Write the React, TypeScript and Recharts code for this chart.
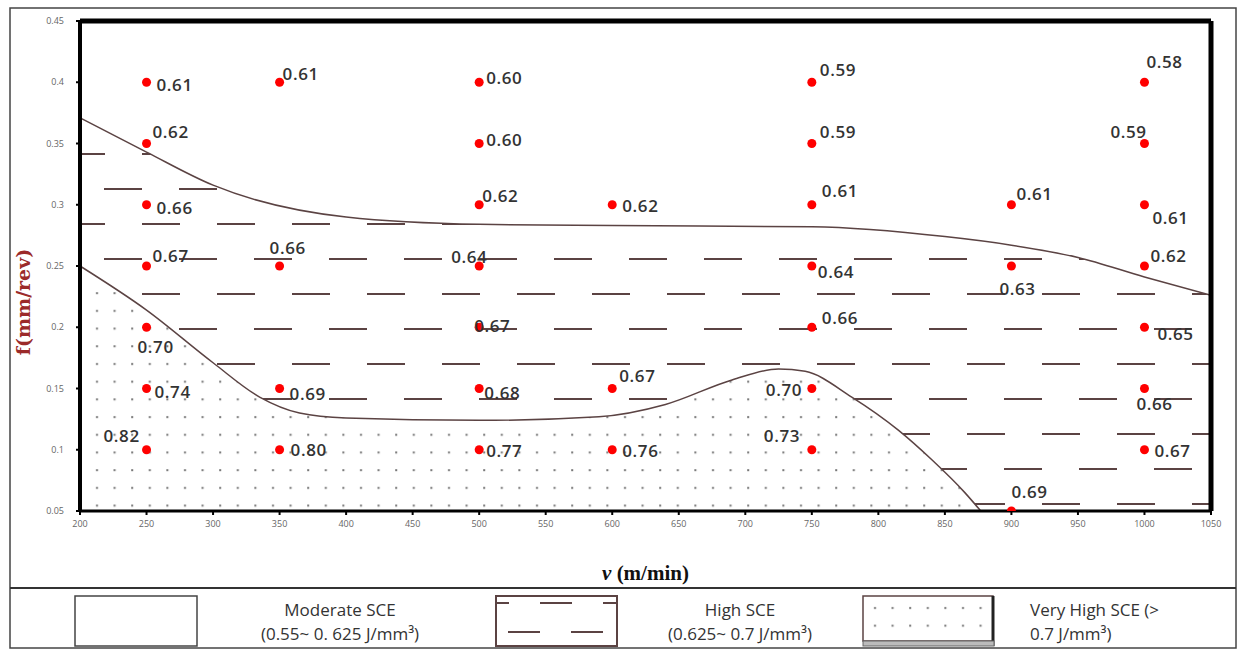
import React from 'react'
import { ComposedChart, Area, Scatter, XAxis, YAxis, Label, ReferenceLine } from 'recharts'

// measured points: cutting speed v (m/min), feed f (mm/rev), SCE (J/mm3)
const pointSpeed = [
  250, 250, 250, 250, 250, 250, 250,
  350, 350, 350, 350,
  500, 500, 500, 500, 500, 500, 500,
  600, 600, 600,
  750, 750, 750, 750, 750, 750, 750,
  900, 900, 900,
  1000, 1000, 1000, 1000, 1000, 1000, 1000,
]
const pointFeed = [
  0.4, 0.35, 0.3, 0.25, 0.2, 0.15, 0.1,
  0.4, 0.25, 0.15, 0.1,
  0.4, 0.35, 0.3, 0.25, 0.2, 0.15, 0.1,
  0.3, 0.15, 0.1,
  0.4, 0.35, 0.3, 0.25, 0.2, 0.15, 0.1,
  0.3, 0.25, 0.05,
  0.4, 0.35, 0.3, 0.25, 0.2, 0.15, 0.1,
]
const pointSce = [
  '0.61', '0.62', '0.66', '0.67', '0.70', '0.74', '0.82',
  '0.61', '0.66', '0.69', '0.80',
  '0.60', '0.60', '0.62', '0.64', '0.67', '0.68', '0.77',
  '0.62', '0.67', '0.76',
  '0.59', '0.59', '0.61', '0.64', '0.66', '0.70', '0.73',
  '0.61', '0.63', '0.69',
  '0.58', '0.59', '0.61', '0.62', '0.65', '0.66', '0.67',
]

// where each value label sits relative to its dot (px)
const labelShift: [number, number][] = [
  [10, 2], [6, -12], [10, 3], [6, -11], [-9, 19], [8, 3], [-43, -14],
  [3, -9], [-10, -19], [10, 5], [11, 0],
  [7, -5], [7, -4], [3, -9], [-28, -10], [-5, -2], [5, 4], [7, 1],
  [10, 1], [7, -13], [10, 1],
  [8, -13], [8, -12], [10, -14], [6, 5], [10, -10], [-46, 1], [-48, -14],
  [5, -11], [-12, 22], [0, -20],
  [2, -21], [-34, -12], [8, 13], [6, -11], [13, 6], [-8, 15], [10, 1],
]

// boundary moderate / high SCE
const upperV = [200, 250, 300, 400, 500, 600, 750, 850, 900, 950, 1000, 1050]
const upperF = [0.371, 0.343, 0.316, 0.29, 0.284, 0.283, 0.282, 0.274, 0.267, 0.257, 0.241, 0.226]

// boundary high / very high SCE
const lowerV = [200, 250, 300, 335, 365, 400, 500, 590, 640, 690, 725, 745, 780, 815, 840, 865, 877]
const lowerF = [0.25, 0.214, 0.171, 0.143, 0.13, 0.126, 0.124, 0.127, 0.137, 0.157, 0.166, 0.164, 0.143, 0.116, 0.092, 0.065, 0.05]

const xTicks = [200, 250, 300, 350, 400, 450, 500, 550, 600, 650, 700, 750, 800, 850, 900, 950, 1000, 1050]
const yTicks = [0.05, 0.1, 0.15, 0.2, 0.25, 0.3, 0.35, 0.4, 0.45]

const points = pointSpeed.map((v, i) => ({ v, f: pointFeed[i], i }))
const upperData = upperV.map((v, i) => ({ v, f: upperF[i] }))
const lowerData = lowerV.map((v, i) => ({ v, f: lowerF[i] }))

const lineColor = '#5b4343'
const textFont = '"Open Sans", "Liberation Sans", sans-serif'

const PointMark = (props: any) => {
  const { cx, cy, payload } = props
  const [dx, dy] = labelShift[payload.i]
  return (
    <g>
      <circle cx={cx} cy={cy} r={4.5} fill="#ff0000" />
      <text
        x={cx + dx}
        y={cy + dy}
        dominantBaseline="central"
        fontSize={17}
        fontWeight={600}
        letterSpacing={0.6}
        fontFamily={textFont}
        fill="#333"
      >
        {pointSce[payload.i]}
      </text>
    </g>
  )
}

const SpeedTitle = (props: any) => {
  const { x, y, width, height } = props.viewBox
  return (
    <text
      x={x + width / 2}
      y={y + height + 32}
      textAnchor="middle"
      dominantBaseline="central"
      fontSize={21}
      fontWeight={700}
      fontFamily='"Liberation Serif", serif'
      fill="#111"
    >
      <tspan fontStyle="italic">v</tspan> (m/min)
    </text>
  )
}

const LegendText = ({ x, y, anchor, children }: any) => (
  <text x={x} y={y} textAnchor={anchor} dominantBaseline="central" fontSize={17} fontFamily={textFont} fill="#333">
    {children}
  </text>
)

const App = () => {
  return (
    <div style={{ position: 'absolute', left: 0, top: 0, width: 1241, height: 651, background: '#fff' }}>
      <svg width={1241} height={651} style={{ position: 'absolute', left: 0, top: 0 }}>
        <defs>
          <pattern id="lg-dash" patternUnits="userSpaceOnUse" x={540} y={590} width={63} height={60}>
            <rect width={63} height={60} fill="#fff" />
            <rect x={0} y={12} width={32} height={2} fill={lineColor} />
            <rect x={31} y={41} width={32} height={2} fill={lineColor} />
          </pattern>
          <pattern id="lg-dot" patternUnits="userSpaceOnUse" x={866} y={600} width={17.6} height={17.7}>
            <rect width={17.6} height={17.7} fill="#fff" />
            <rect x={8} y={7} width={2} height={2} fill="#777" />
          </pattern>
        </defs>
        <rect x={10} y={8} width={1226} height={640} fill="none" stroke="#444" strokeWidth={1.5} />
        <line x1={10} y1={588} x2={1236} y2={588} stroke="#333" strokeWidth={2} />
        <text
          transform="translate(23,302) rotate(-90)"
          textAnchor="middle"
          dominantBaseline="central"
          fontSize={19}
          fontWeight={700}
          fontFamily='"DejaVu Serif", serif'
          fill="#9b2a2a"
        >
          f(mm/rev)
        </text>

        {/* legend */}
        <rect x={75} y={596} width={122} height={50} fill="#fff" stroke="#444" strokeWidth={1.5} />
        <LegendText x={340} y={609} anchor="middle">Moderate SCE</LegendText>
        <LegendText x={340} y={633} anchor="middle">(0.55~ 0. 625 J/mm³)</LegendText>

        <rect x={496} y={596} width={121} height={50} fill="url(#lg-dash)" stroke={lineColor} strokeWidth={2} />
        <LegendText x={740} y={609} anchor="middle">High SCE</LegendText>
        <LegendText x={740} y={633} anchor="middle">(0.625~ 0.7 J/mm³)</LegendText>

        <rect x={863} y={596} width={130} height={45} fill="url(#lg-dot)" stroke={lineColor} strokeWidth={1.5} />
        <line x1={993} y1={596} x2={993} y2={646} stroke="#222" strokeWidth={3} />
        <rect x={863} y={641} width={131} height={5} fill="#bbb" stroke="#666" strokeWidth={1} />
        <LegendText x={1030} y={609}>Very High SCE (&gt;</LegendText>
        <LegendText x={1030} y={633}>0.7 J/mm³)</LegendText>
      </svg>

      <div style={{ position: 'absolute', left: 0, top: 0 }}>
        <ComposedChart width={1241} height={590} margin={{ top: 21, right: 30, bottom: 49, left: 20 }}>
          <defs>
            <pattern id="pl-dash" patternUnits="userSpaceOnUse" x={67} y={-21} width={75} height={70}>
              <rect width={75} height={70} fill="#fff" />
              <rect x={0} y={34} width={38} height={2} fill={lineColor} />
              <rect x={37} y={-1} width={38} height={2} fill={lineColor} />
              <rect x={37} y={69} width={38} height={2} fill={lineColor} />
            </pattern>
            <pattern id="pl-dot" patternUnits="userSpaceOnUse" x={0} y={0} width={17.6} height={17.7}>
              <rect width={17.6} height={17.7} fill="#fff" />
              <rect x={8} y={9} width={2} height={2} fill="#777" />
            </pattern>
          </defs>
          <XAxis
            dataKey="v"
            type="number"
            domain={[200, 1050]}
            ticks={xTicks}
            interval={0}
            height={30}
            allowDataOverflow
            axisLine={{ stroke: '#000', strokeWidth: 3 }}
            tickLine={{ stroke: '#000', strokeWidth: 2 }}
            tickSize={4}
            tickMargin={6}
            tick={{ fontSize: 9, fill: '#666', fontFamily: textFont }}
          >
            <Label content={SpeedTitle} />
          </XAxis>
          <YAxis
            type="number"
            domain={[0.05, 0.45]}
            ticks={yTicks}
            interval={0}
            width={60}
            allowDataOverflow
            axisLine={{ stroke: '#000', strokeWidth: 4 }}
            tickLine={{ stroke: '#000', strokeWidth: 2 }}
            tickSize={4}
            tickMargin={12}
            tickFormatter={(t: number) => String(t)}
            tick={{ fontSize: 9, fill: '#666', fontFamily: textFont }}
          />
          <Area
            data={upperData}
            dataKey="f"
            type="monotone"
            baseValue="dataMin"
            stroke={lineColor}
            strokeWidth={1.5}
            fill="url(#pl-dash)"
            fillOpacity={1}
            isAnimationActive={false}
          />
          <Area
            data={lowerData}
            dataKey="f"
            type="monotone"
            baseValue="dataMin"
            stroke={lineColor}
            strokeWidth={1.5}
            fill="url(#pl-dot)"
            fillOpacity={1}
            isAnimationActive={false}
          />
          <ReferenceLine y={0.45} stroke="#000" strokeWidth={5} />
          <ReferenceLine x={1050} stroke="#000" strokeWidth={5} />
          <Scatter data={points} dataKey="f" shape={PointMark} isAnimationActive={false} />
        </ComposedChart>
      </div>
    </div>
  )
}

export default App
